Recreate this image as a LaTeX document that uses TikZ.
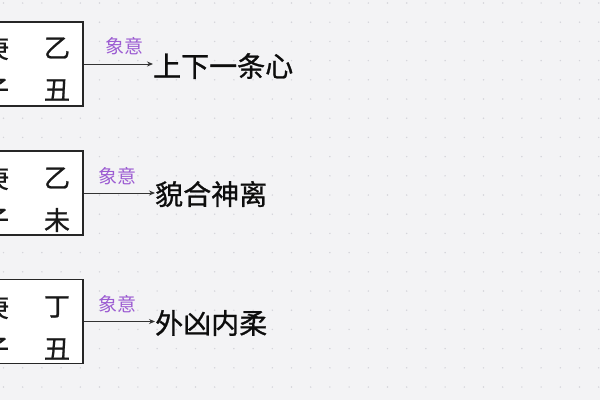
\documentclass[tikz,border=0pt]{standalone}
\usepackage{fontspec}
\newfontfamily\cjk{Noto Sans CJK SC}
\newfontfamily\cjkheavy[FakeBold=0.9]{Noto Sans CJK SC}
\usetikzlibrary{arrows.meta}
\definecolor{paper}{RGB}{243,243,245}
\definecolor{dotgray}{RGB}{212,212,218}
\definecolor{yipurple}{RGB}{156,92,210}

\begin{document}
\begin{tikzpicture}[x=1pt,y=-1pt]
    \tikzstyle{every node}+=[inner sep=0pt]
    \tikzset{
      gzbox/.style={draw=black!85,line width=1.1pt,fill=white,minimum width=150pt,minimum height=84pt},
      gz/.style={font=\cjkheavy\fontsize{26}{26}\selectfont,text=black!90},
      meaning/.style={font=\cjkheavy\fontsize{28}{28}\selectfont,text=black!95,anchor=west},
      xiang/.style={font=\cjk\fontsize{19}{19}\selectfont,text=yipurple},
      link/.style={draw=black!80,line width=0.9pt,-{Stealth[length=6pt,width=5pt]}}
    }
    % background and dot grid
    \fill [paper] (0,0) rectangle (600,400);
    \useasboundingbox (0,0) rectangle (600,400);
    \foreach \i in {0,...,31}
      \foreach \j in {0,...,20}
        \fill [dotgray] (3.5+19.2*\i,3+19.2*\j) circle (0.8);
    % first pair
    \node [gzbox] (box1) at (8,64) {};
    \node [gz] (g1a) at (-4,48) {庚};
    \node [gz] (g1b) at (57,48) {乙};
    \node [gz] (g1c) at (-4,90) {子};
    \node [gz] (g1d) at (57,90) {丑};
    \node [meaning] (m1) at (153,66) {上下一条心};
    \draw [link] (box1.east) -- (box1.east -| m1.west) node [xiang,midway,above=9pt,xshift=6pt] (x1) {象意};
    % second pair
    \node [gzbox] (box2) at (8,193) {};
    \node [gz] (g2a) at (-4,178) {庚};
    \node [gz] (g2b) at (57,178) {乙};
    \node [gz] (g2c) at (-4,220) {子};
    \node [gz] (g2d) at (57,220) {未};
    \node [meaning] (m2) at (155,194) {貌合神离};
    \draw [link] (box2.east) -- (box2.east -| m2.west) node [xiang,midway,above=8pt,xshift=-2pt] (x2) {象意};
    % third pair
    \node [gzbox] (box3) at (8,321.5) {};
    \node [gz] (g3a) at (-4,307) {庚};
    \node [gz] (g3b) at (57,307) {丁};
    \node [gz] (g3c) at (-4,349) {子};
    \node [gz] (g3d) at (57,349) {丑};
    \node [meaning] (m3) at (155,323) {外凶内柔};
    \draw [link] (box3.east) -- (box3.east -| m3.west) node [xiang,midway,above=8pt,xshift=-2pt] (x3) {象意};
\end{tikzpicture}
\end{document}
